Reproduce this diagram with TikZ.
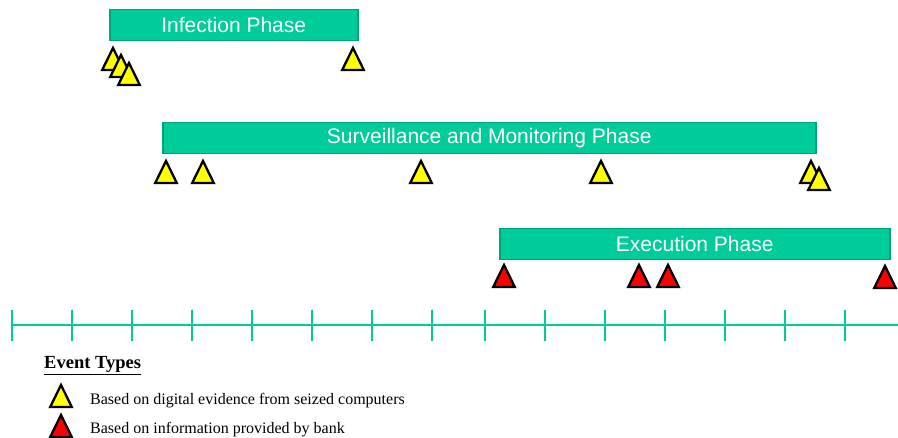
\documentclass[tikz,border=0pt]{standalone}
\usepackage{fontspec}
\setmainfont{Liberation Serif}
\setsansfont{Liberation Sans}
\usetikzlibrary{positioning}
\definecolor{PhaseGreen}{HTML}{00CC99}
\definecolor{PhaseEdge}{HTML}{00A47A}
\definecolor{EvtYellow}{HTML}{FFFF00}
\definecolor{EvtRed}{HTML}{FF0000}

\begin{document}
\begin{tikzpicture}[x=1pt, y=-1pt,
      phase/.style={draw=PhaseEdge, line width=1.5pt, fill=PhaseGreen,
                    rectangle, anchor=north west, inner sep=0pt, text=white,
                    minimum height=31pt,
                    font=\sffamily\fontsize{21}{21}\selectfont},
      evtri/.pic={\path[pic actions] (0,0) -- (-10.8,#1) -- (10.8,#1) -- cycle;},
      pcevt/.style={draw=black, fill=EvtYellow, line width=2.3pt, line join=miter},
      bankevt/.style={draw=black, fill=EvtRed, line width=2.3pt, line join=miter},
      tline/.style={draw=PhaseGreen, line width=1.3pt},
      legtxt/.style={anchor=base west, inner sep=0pt,
                     font=\fontsize{16}{16}\selectfont},
    ]
      \useasboundingbox (0,0) rectangle (898,438);
      \node[phase, minimum width=248pt] (infect) at (109,9) {Infection Phase};
      \node[phase, minimum width=653pt] (surv) at (162,122)
            {Surveillance and Monitoring Phase};
      \node[phase, minimum width=390pt] (exec) at (499,228) {Execution Phase};
      \pic[pcevt] (i1) at (113,48) {evtri=22};
      \pic[pcevt] (i2) at (121,55) {evtri=22};
      \pic[pcevt] (i3) at (129,63) {evtri=22};
      \pic[pcevt] (i4) at (353,48) {evtri=22};
      \pic[pcevt] (s1) at (166,161) {evtri=22};
      \pic[pcevt] (s2) at (203,161) {evtri=22};
      \pic[pcevt] (s3) at (421,161) {evtri=22};
      \pic[pcevt] (s4) at (601,161) {evtri=22};
      \pic[pcevt] (s5) at (811,161) {evtri=22};
      \pic[pcevt] (s6) at (819,168) {evtri=22};
      \pic[bankevt] (e1) at (504,265) {evtri=22};
      \pic[bankevt] (e2) at (639,265) {evtri=22};
      \pic[bankevt] (e3) at (668,265) {evtri=22};
      \pic[bankevt] (e4) at (885,266) {evtri=22};
      \coordinate (tstart) at (12,325);
      \coordinate (tend) at (898,325);
      \draw[tline] (tstart) -- (tend);
      \foreach \tx in {12,72,...,432} \draw[tline] (\tx,310) -- (\tx,341);
      \foreach \tx in {485,545,...,845} \draw[tline] (\tx,310) -- (\tx,341);
      \node[anchor=base west, inner sep=0pt,
            font=\bfseries\fontsize{18.5}{18.5}\selectfont] (evhead) at (44,369)
            {\underline{Event Types}};
      \pic[pcevt] (legpc) at (61,385) {evtri=22};
      \pic[bankevt] (legbank) at (61,415) {evtri=22};
      \node[legtxt] (legpctxt) at (90,405) {Based on digital evidence from seized computers};
      \node[legtxt] (legbanktxt) at (90,434) {Based on information provided by bank};
    \end{tikzpicture}
\end{document}
